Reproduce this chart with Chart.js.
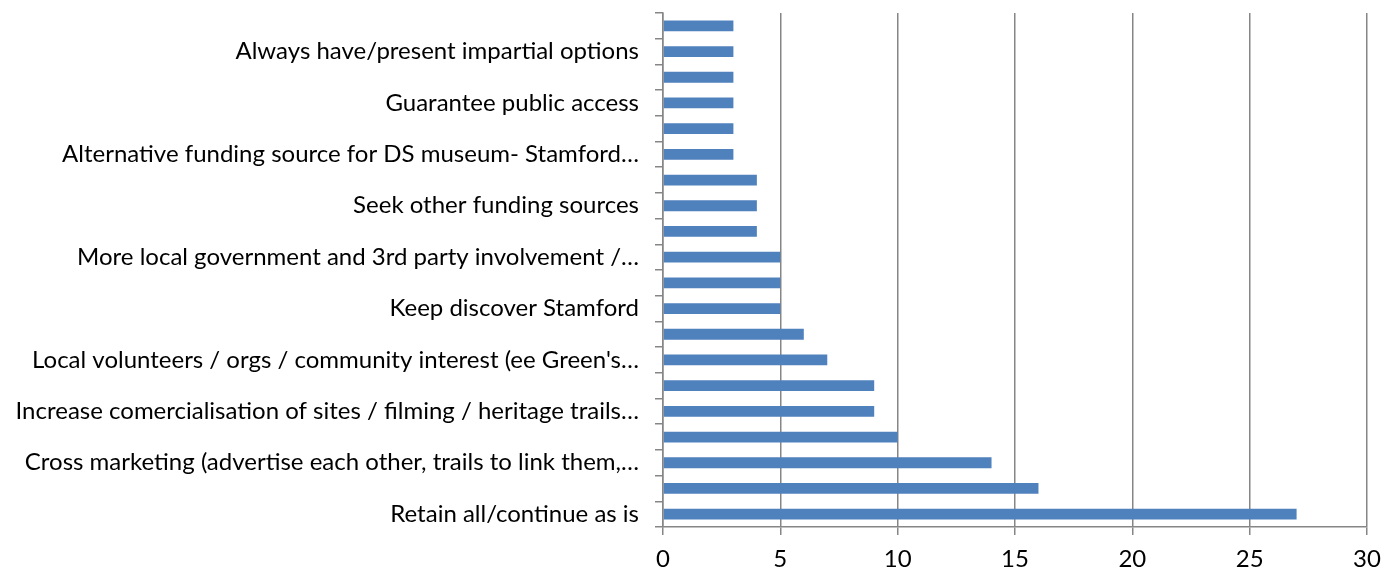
<!DOCTYPE html>
<html>
<head>
<meta charset="utf-8">
<script src="https://cdn.jsdelivr.net/npm/chart.js@4"></script>
<style>
  html, body { margin: 0; padding: 0; background: #fff; }
  #wrap { width: 1384px; height: 572px; }
</style>
</head>
<body>
<div id="wrap"><canvas id="chart"></canvas></div>
<script>
// categories top to bottom, only every other one is labelled in the original
const categories = [
    '',
    'Always have/present impartial options',
    '',
    'Guarantee public access',
    '',
    'Alternative funding source for DS museum- Stamford…',
    '',
    'Seek other funding sources',
    '',
    'More local government and 3rd party involvement /…',
    '',
    'Keep discover Stamford',
    '',
    "Local volunteers / orgs / community interest (ee Green's…",
    '',
    'Increase comercialisation of sites / filming / heritage trails…',
    '',
    'Cross marketing (advertise each other, trails to link them,…',
    '',
    'Retain all/continue as is',
];
const counts = [3, 3, 3, 3, 3, 3, 4, 4, 4, 5, 5, 5, 6, 7, 9, 9, 10, 14, 16, 27];
const xTicks = [0, 5, 10, 15, 20, 25, 30];

const FONT = 'Lato';
const gray = '#868686';

new Chart(document.getElementById('chart'), {
    type: 'bar',
    data: {
        labels: categories,
        datasets: [
            {
                label: 'Count',
                data: counts,
                backgroundColor: '#4f81bd',
                borderWidth: 0,
                barPercentage: 0.84,
                categoryPercentage: 0.5,
            },
        ],
    },
    options: {
        indexAxis: 'y',
        responsive: true,
        maintainAspectRatio: false,
        animation: false,
        layout: { padding: { top: 13, right: 17, left: 0, bottom: 0 } },
        plugins: {
            legend: { display: false },
            tooltip: { enabled: false },
        },
        scales: {
            x: {
                min: 0,
                max: 30,
                afterBuildTicks: function (axis) {
                    axis.ticks = xTicks.map(function (v) {
                        return { value: v };
                    });
                },
                afterFit: function (axis) {
                    axis.height = 45;
                    axis.paddingLeft = 0;
                    axis.paddingRight = 0;
                },
                ticks: {
                    color: '#000',
                    font: { family: FONT, size: 24 },
                    padding: 10,
                },
                grid: {
                    color: gray,
                    lineWidth: 1.5,
                    tickLength: 8,
                    drawTicks: true,
                },
                border: { color: gray, width: 1.5 },
            },
            y: {
                afterFit: function (axis) {
                    axis.width = 663;
                    axis.paddingTop = 0;
                    axis.paddingBottom = 0;
                },
                ticks: {
                    autoSkip: false,
                    color: '#000',
                    font: { family: FONT, size: 24 },
                    padding: 16,
                },
                grid: {
                    drawOnChartArea: false,
                    color: gray,
                    lineWidth: 1.5,
                    tickLength: 8,
                    offset: true,
                },
                border: { color: gray, width: 1.5 },
            },
        },
    },
});
</script>
</body>
</html>
